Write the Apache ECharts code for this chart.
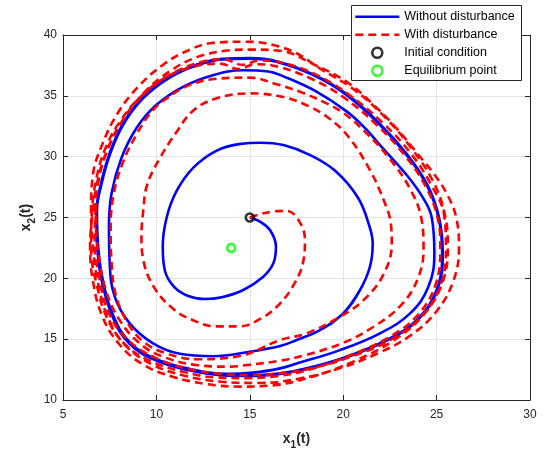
<!DOCTYPE html>
<html><head><meta charset="utf-8">
<script src="https://cdn.jsdelivr.net/npm/echarts@6/dist/echarts.min.js"></script>
<style>html,body{margin:0;padding:0;background:#fff}#c{width:549px;height:450px}</style>
</head><body><div id="c"></div>
<script>
// ---- data ----
const blueInner = [[15.0,25.0],[15.5,24.7],[16.08,23.97],[16.4,22.6],[16.26,21.23],[15.72,20.13],[14.65,19.04],[13.5,18.45],[12.6,18.3],[11.7,18.55],[10.95,19.3],[10.46,20.6],[10.34,22.6],[10.55,25.0],[11.09,27.2],[11.98,29.1],[13.23,30.5],[14.5,31.05],[15.6,31.15],[16.8,30.95],[18.2,30.15],[19.6,28.8],[20.8,26.6],[21.4,24.3],[21.58,22.87],[21.43,20.95],[20.9,19.04],[20.0,17.12],[18.76,15.75],[17.51,14.93],[16.62,14.44],[15.0,13.97],[13.03,13.6],[11.25,13.8],[9.82,14.66],[8.57,16.3],[7.77,18.49],[7.5,21.23],[7.46,24.24]];
const blueSecond = [[7.6,27.0],[8.12,29.86],[8.92,32.32],[9.99,34.24],[11.42,35.74],[13.03,36.7],[14.64,37.1],[16.0,37.0],[16.8,36.6],[18.5,35.4],[20.2,33.7],[21.2,32.3],[21.97,30.95],[23.4,28.49],[24.29,26.57],[24.74,25.0],[24.88,22.05],[24.56,19.31],[23.58,17.12],[21.97,15.48],[19.83,14.1],[17.51,13.0],[16.62,12.6],[15.2,12.25],[13.6,12.15],[11.8,12.55],[10.0,13.35],[8.6,14.7],[7.7,16.9],[7.1,20.1],[6.85,23.4]];
const blueLimitA = [[6.82,25.6],[7.05,27.67],[7.5,30.13],[8.21,32.6],[9.28,34.79],[10.71,36.5],[12.14,37.5],[13.56,38.0],[15.0,38.05],[16.41,37.8],[18.4,36.7],[20.19,35.06],[21.97,32.6],[23.4,30.13],[24.47,27.67],[25.1,25.0],[25.3,22.05],[25.0,19.04],[23.93,16.57],[22.32,14.93],[20.19,13.56],[18.05,12.6],[16.62,12.19],[15.0,12.02],[13.56,12.05],[11.78,12.47],[9.99,13.29],[8.57,14.66],[7.68,16.85],[7.05,20.13],[6.82,23.42]];
const blueLimitB = [[6.8,25.6],[7.02,27.7],[7.47,30.17],[8.18,32.64],[9.25,34.83],[10.68,36.54],[12.12,37.55],[13.55,38.05],[15.0,38.1],[16.42,37.85],[18.42,36.74],[20.22,35.1],[22.0,32.64],[23.43,30.17],[24.5,27.7],[25.13,25.0],[25.33,22.05],[25.03,19.02],[23.96,16.54],[22.35,14.9],[20.2,13.52],[18.05,12.56],[16.62,12.15],[15.0,11.98],[13.55,12.02],[11.76,12.44],[9.97,13.26],[8.55,14.63],[7.66,16.82],[7.03,20.1],[6.8,23.4]];

const redLoop1 = [[15.0,25.0],[15.6,25.3],[16.3,25.5],[16.97,25.55],[17.6,24.8],[17.95,23.15],[17.85,21.3],[17.4,19.6],[16.6,17.9],[15.6,16.7],[14.4,16.05],[13.2,16.05],[11.9,16.6],[10.89,17.5],[9.9,19.2],[9.3,21.5],[9.2,23.5],[9.3,25.6],[9.5,27.67],[10.18,29.86],[11.07,32.0],[11.98,33.8],[13.23,34.8],[15.0,35.2],[16.8,34.9],[18.22,34.1],[19.29,33.1],[20.3,31.6],[21.43,28.9],[22.2,26.3],[22.55,24.5],[22.6,22.87],[22.15,20.3],[21.08,18.2],[19.83,16.85],[18.05,15.48],[16.62,14.93],[15.0,13.85],[13.76,13.45],[12.2,13.35],[10.6,13.8],[9.3,14.8],[8.4,16.5],[7.8,18.8],[7.6,21.3],[7.55,24.0]];
const redLoop2 = [[7.7,26.8],[8.2,29.5],[9.0,32.0],[9.8,33.8],[10.55,34.79],[11.8,35.9],[13.23,36.4],[15.0,36.5],[16.44,35.95],[17.69,35.33],[18.94,34.5],[20.0,33.6],[21.2,32.0],[22.5,29.8],[23.6,27.3],[24.2,24.8],[24.3,22.5],[24.0,20.0],[23.1,17.8],[21.6,16.0],[20.0,14.7],[18.0,13.7],[16.5,13.2],[15.0,12.9],[13.92,12.74],[12.14,12.88],[10.35,13.56],[9.1,14.66],[8.03,16.57],[7.3,19.0],[6.9,22.0]];
const redLoop3 = [[6.75,25.0],[6.9,28.0],[7.4,30.6],[8.2,33.0],[9.3,35.2],[10.7,37.0],[12.2,38.2],[13.7,38.7],[15.0,38.8],[16.62,38.7],[18.4,37.6],[20.19,36.15],[21.6,34.3],[22.86,32.32],[24.0,30.2],[24.9,28.5],[25.6,26.8],[26.05,25.0],[26.2,22.5],[25.9,19.8],[25.0,17.3],[23.6,15.3],[21.8,13.8],[19.8,12.6],[17.6,11.75],[15.5,11.4],[13.5,11.5],[11.5,12.0],[9.8,12.9],[8.4,14.4],[7.4,16.6],[6.8,19.5],[6.5,22.5]];
const redLoop4 = [[6.55,25.5],[6.8,28.3],[7.3,30.8],[8.1,33.0],[9.2,35.0],[10.6,36.6],[12.0,37.4],[13.4,37.65],[14.4,37.2],[15.3,37.6],[16.5,37.4],[18.3,36.4],[20.0,34.9],[21.8,32.6],[23.3,30.1],[24.4,27.6],[25.05,25.0],[25.2,22.5],[24.95,19.5],[24.0,17.0],[22.5,15.2],[20.4,13.7],[18.2,12.5],[16.4,11.95],[14.8,11.8],[13.2,11.85],[11.5,12.3],[9.7,13.2],[8.3,14.6],[7.4,16.8],[6.85,19.8],[6.6,22.8]];
const redLoop5 = [[6.5,25.5],[6.6,28.5],[7.1,31.0],[7.9,33.5],[9.0,35.7],[10.4,37.6],[11.8,38.8],[13.03,39.35],[14.81,39.45],[16.2,39.2],[17.5,38.5],[18.8,37.2],[20.5,35.6],[22.2,33.3],[23.6,30.8],[24.8,28.0],[25.45,25.2],[25.6,22.5],[25.3,19.6],[24.3,17.0],[22.7,14.9],[20.6,13.2],[18.3,11.9],[16.2,11.2],[14.5,11.1],[12.7,11.3],[10.9,11.9],[9.3,12.9],[8.0,14.6],[7.1,16.9],[6.6,19.8],[6.45,22.6]];
const redLoop6 = [[6.6,25.5],[6.85,28.0],[7.35,30.5],[8.15,32.9],[9.25,35.0],[10.7,36.7],[12.2,37.7],[13.6,38.0],[14.6,37.55],[15.5,37.9],[16.8,37.7],[18.6,36.7],[20.3,35.1],[22.1,32.8],[23.6,30.3],[24.7,27.7],[25.4,25.2],[25.5,22.4],[25.2,19.4],[24.2,16.9],[22.6,15.0],[20.5,13.6],[18.3,12.6],[16.6,12.2],[15.0,12.05],[13.4,12.15],[11.6,12.6],[9.9,13.5],[8.5,14.9],[7.5,17.0],[6.95,20.0],[6.7,23.0],[6.75,26.0]];

const initialPoint = [15, 25];
const equilibriumPoint = [14, 22.5];
const seriesNames = ['Without disturbance', 'With disturbance', 'Initial condition', 'Equilibrium point'];
const xRange = [5, 30];
const yRange = [10, 40];
const tickStep = 5;

// ---- build ----
const bluePath = [].concat(blueInner, blueSecond, blueLimitA, blueLimitB);
const redPath = [].concat(redLoop1, redLoop2, redLoop3, redLoop4, redLoop5, redLoop6);

const FONT = "'Liberation Sans', Arial, Helvetica, sans-serif";
const AX = '#262626';
const CLEAR = 'rgba(0,0,0,0)';
const BLUE = '#0000ff', RED = '#ff0000', GREEN = '#00ff00';
const DASH = [8, 5];
const nameRich = {
  b: {fontSize: 14, fontWeight: 'bold', color: AX, fontFamily: FONT, lineHeight: 22, verticalAlign: 'middle'},
  s: {fontSize: 10, fontWeight: 'bold', color: AX, fontFamily: FONT, lineHeight: 10, verticalAlign: 'bottom'}
};
function axisBase(range, pos, main) {
  return {
    type: 'value', min: range[0], max: range[1], interval: tickStep, position: pos,
    axisLine: {show: true, onZero: false, lineStyle: {color: AX, width: 1}},
    axisTick: {show: true, inside: true, length: 5, lineStyle: {color: AX, width: 1}},
    axisLabel: main ? {show: true, color: AX, fontSize: 12, fontFamily: FONT, showMinLabel: true, showMaxLabel: true} : {show: false},
    splitLine: main ? {show: true, lineStyle: {color: '#e3e3e3', width: 1}} : {show: false},
    nameMoveOverlap: false
  };
}
const x0 = axisBase(xRange, 'bottom', true);
x0.axisLabel.margin = 9;
x0.name = '{b|x}{s|1}{b|(t)}';
x0.nameLocation = 'middle';
x0.nameGap = 28;
x0.nameTextStyle = {rich: nameRich};
const y0 = axisBase(yRange, 'left', true);
y0.axisLabel.margin = 6;
y0.name = '{b|x}{s|2}{b|(t)}';
y0.nameLocation = 'middle';
y0.nameRotate = 90;
y0.nameGap = 26;
y0.nameTextStyle = {rich: nameRich};

const chart = echarts.init(document.getElementById('c'), null, {renderer: 'canvas'});
chart.setOption({
  animation: false,
  backgroundColor: '#fff',
  grid: {left: 63, right: 19, top: 35, bottom: 50, show: false, containLabel: false, outerBoundsMode: 'none'},
  xAxis: [x0, axisBase(xRange, 'top', false)],
  yAxis: [y0, axisBase(yRange, 'right', false)],
  graphic: [{type: 'rect', z: 10, shape: {x: 351.5, y: 5.5, width: 170, height: 75},
             style: {fill: '#fff', stroke: AX, lineWidth: 1}}],
  legend: {
    orient: 'vertical', left: 354, top: 7.7, padding: 0, itemWidth: 44, itemHeight: 10,
    itemGap: 0, itemTextGap: 4, selectedMode: false, z: 20,
    textStyle: {fontSize: 12.5, color: '#000', fontFamily: FONT, lineHeight: 18},
    data: [
      {name: seriesNames[0], itemStyle: {color: CLEAR, borderColor: CLEAR, borderWidth: 0},
       lineStyle: {color: BLUE, width: 2.6, type: 'solid'}},
      {name: seriesNames[1], itemStyle: {color: CLEAR, borderColor: CLEAR, borderWidth: 0},
       lineStyle: {color: RED, width: 2.6, type: DASH}},
      {name: seriesNames[2], itemStyle: {color: CLEAR, borderColor: '#000', borderWidth: 2.6}},
      {name: seriesNames[3], itemStyle: {color: CLEAR, borderColor: GREEN, borderWidth: 2.6}}
    ]
  },
  series: [
    {name: seriesNames[0], type: 'line', data: bluePath, symbol: 'none', smooth: 0.4, z: 2,
     lineStyle: {color: BLUE, width: 2.6}, itemStyle: {color: BLUE}},
    {name: seriesNames[1], type: 'line', data: redPath, symbol: 'none', smooth: 0.4, z: 3,
     lineStyle: {color: RED, width: 2.6, type: DASH}, itemStyle: {color: RED}},
    {name: seriesNames[2], type: 'scatter', data: [initialPoint], symbol: 'circle', symbolSize: 8, z: 5,
     itemStyle: {color: CLEAR, borderColor: '#000', borderWidth: 2.6}},
    {name: seriesNames[3], type: 'scatter', data: [equilibriumPoint], symbol: 'circle', symbolSize: 8, z: 5,
     itemStyle: {color: CLEAR, borderColor: GREEN, borderWidth: 2.6}}
  ]
});
</script></body></html>
